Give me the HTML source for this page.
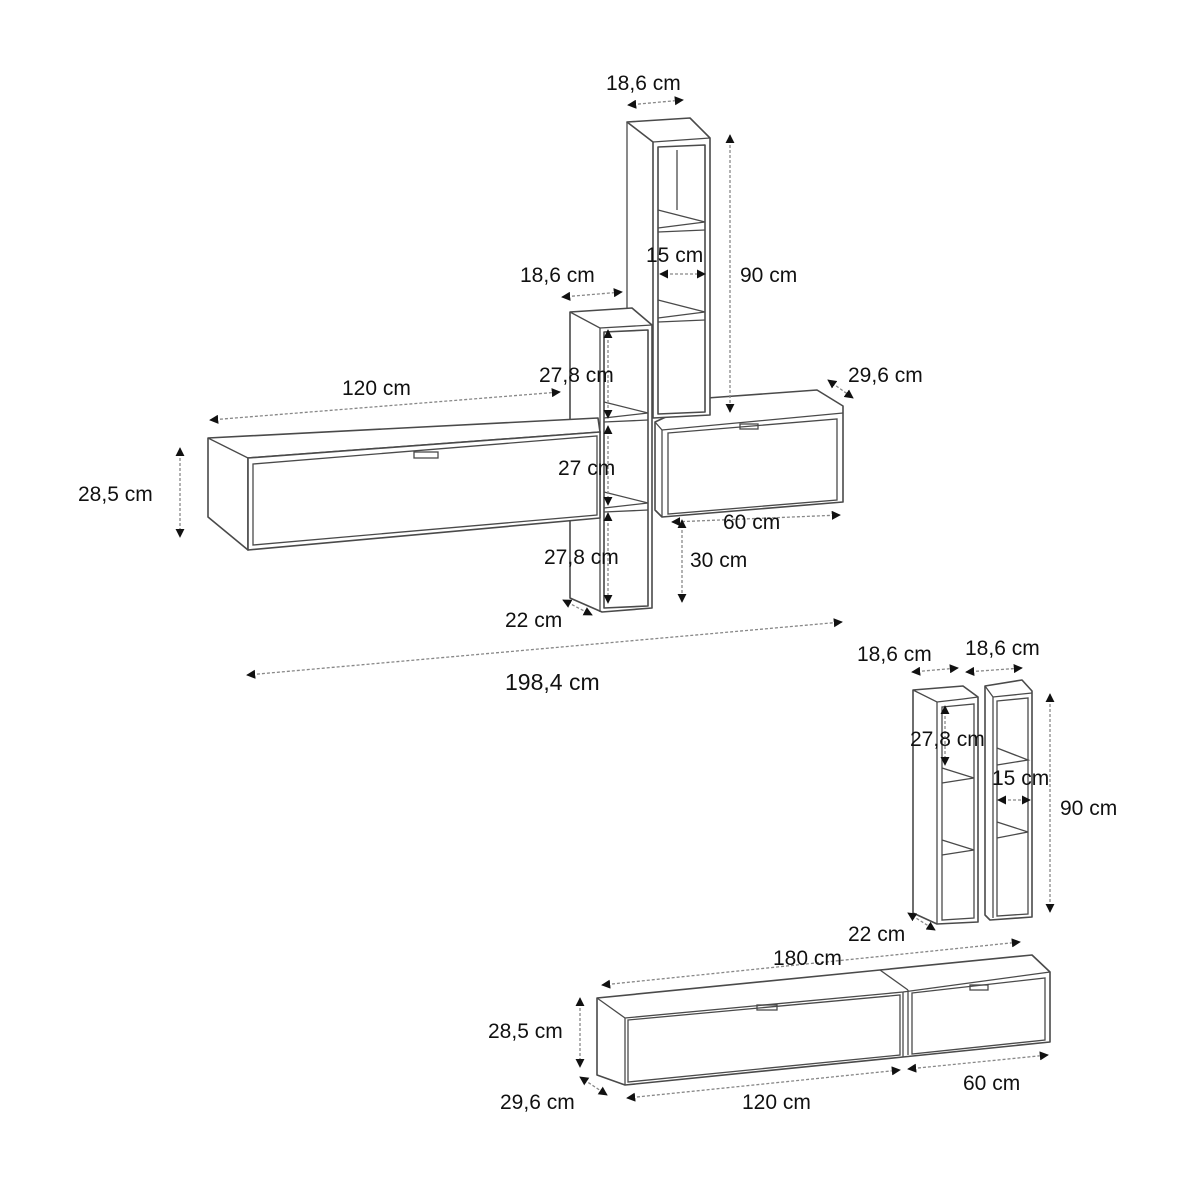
<!DOCTYPE html>
<html><head><meta charset="utf-8"><style>
html,body{margin:0;padding:0;background:#fff}
svg{display:block}
text{font-family:"Liberation Sans",sans-serif;font-size:21px;fill:#111}
.l{fill:#fff;stroke:#4a4a4a;stroke-width:1.6;stroke-linejoin:round}
.t{fill:none;stroke:#4a4a4a;stroke-width:1.3}
.d{fill:none;stroke:#888;stroke-width:1.3;stroke-dasharray:3 2}
</style></head><body>
<svg width="1200" height="1200" viewBox="0 0 1200 1200">
<defs><marker id="a" viewBox="0 0 10 10" refX="9" refY="5" markerWidth="7" markerHeight="7" orient="auto-start-reverse"><path d="M0,0L10,5L0,10z" fill="#111"/></marker></defs>

<!-- right cabinet (behind tall shelf) -->
<polygon class="l" points="655,422 707,398 817,390 843,406 843,502 662,517 655,510"/>
<polyline class="t" points="655,422 662,430 843,413"/>
<polyline class="t" points="662,430 662,517"/>
<polygon class="t" points="668,433 837,419 837,500 668,514"/>
<rect class="t" x="740" y="424" width="18" height="5"/>

<!-- tall shelf top set -->
<polygon class="l" points="627,122 690,118 710,138 710,415 653,418 653,142 627,122"/>
<polyline class="t" points="627,122 627,420"/>
<polyline class="t" points="653,142 710,138"/>
<polygon class="l" points="658,147 705,145 705,412 658,414"/>
<polyline class="t" points="658,210 705,222 658,228"/><polyline class="t" points="658,232 705,230"/>
<polyline class="t" points="658,300 705,312 658,318"/><polyline class="t" points="658,322 705,320"/>
<polyline class="t" points="677,150 677,210"/>

<!-- small middle shelf -->
<polygon class="l" points="570,312 632,308 652,325 652,608 602,612 570,598"/>
<polyline class="t" points="600,328 652,325"/><polyline class="t" points="570,312 600,328 600,612"/>
<polygon class="l" points="604,332 648,330 648,606 604,608"/>
<polyline class="t" points="604,402 648,413 604,418"/><polyline class="t" points="604,422 648,420"/>
<polyline class="t" points="604,492 648,503 604,508"/><polyline class="t" points="604,512 648,510"/>

<!-- left cabinet -->
<polygon class="l" points="208,438 598,418 600,432 248,458 248,550 208,517"/>
<polygon class="l" points="248,458 600,432 600,518 248,550"/>
<polygon class="t" points="253,464 597,436 597,515 253,545"/>
<rect class="t" x="414" y="452" width="24" height="6"/>
<polyline class="t" points="208,438 248,458"/>

<!-- bottom shelves -->
<polygon class="l" points="913,690 963,686 978,697 978,922 937,924 913,913"/>
<polyline class="t" points="913,690 937,702 963,699 978,697"/><polyline class="t" points="937,702 937,924"/>
<polygon class="t" points="942,707 974,704 974,918 942,920"/>
<polyline class="t" points="942,768 974,778 942,783"/><polyline class="t" points="942,840 974,850 942,855"/>
<polygon class="l" points="985,686 1022,680 1032,691 1032,917 990,920 985,915"/>
<polyline class="t" points="985,686 993,697 1032,693"/><polyline class="t" points="993,697 993,918"/>
<polygon class="t" points="997,701 1028,698 1028,914 997,916"/>
<polyline class="t" points="997,748 1028,760 997,765"/><polyline class="t" points="997,822 1028,832 997,838"/>

<!-- bottom long cabinet -->
<polygon class="l" points="597,998 880,970 1032,955 1050,972 1050,1042 903,1057 625,1085 597,1075"/>
<polyline class="t" points="597,998 625,1018 903,992 1050,972"/>
<polyline class="t" points="880,970 908,990"/>
<polygon class="t" points="628,1020 900,995 900,1055 628,1082"/>
<polyline class="t" points="625,1018 625,1085"/>
<polyline class="t" points="903,992 903,1057"/><polyline class="t" points="908,990 908,1055"/>
<polygon class="t" points="912,993 1045,978 1045,1040 912,1054"/>
<rect class="t" x="757" y="1005" width="20" height="5"/><rect class="t" x="970" y="985" width="18" height="5"/>

<!-- dimension lines -->
<g class="d" marker-start="url(#a)" marker-end="url(#a)">
<line x1="628" y1="105" x2="683" y2="100"/>
<line x1="730" y1="135" x2="730" y2="412"/>
<line x1="562" y1="297" x2="622" y2="292"/>
<line x1="660" y1="274" x2="705" y2="274"/>
<line x1="210" y1="420" x2="560" y2="392"/>
<line x1="828" y1="380" x2="853" y2="398"/>
<line x1="180" y1="448" x2="180" y2="537"/>
<line x1="608" y1="330" x2="608" y2="418"/>
<line x1="608" y1="426" x2="608" y2="505"/>
<line x1="608" y1="513" x2="608" y2="603"/>
<line x1="672" y1="522" x2="840" y2="515"/>
<line x1="682" y1="520" x2="682" y2="602"/>
<line x1="563" y1="600" x2="592" y2="615"/>
<line x1="247" y1="675" x2="842" y2="622"/>
<line x1="912" y1="672" x2="958" y2="668"/>
<line x1="966" y1="672" x2="1022" y2="668"/>
<line x1="945" y1="706" x2="945" y2="765"/>
<line x1="998" y1="800" x2="1030" y2="800"/>
<line x1="1050" y1="694" x2="1050" y2="912"/>
<line x1="908" y1="913" x2="935" y2="930"/>
<line x1="602" y1="985" x2="1020" y2="942"/>
<line x1="580" y1="998" x2="580" y2="1067"/>
<line x1="580" y1="1077" x2="607" y2="1095"/>
<line x1="627" y1="1098" x2="900" y2="1070"/>
<line x1="908" y1="1069" x2="1048" y2="1055"/>
</g>

<text x="606" y="90">18,6 cm</text>
<text x="520" y="282">18,6 cm</text>
<text x="646" y="262">15 cm</text>
<text x="740" y="282">90 cm</text>
<text x="342" y="395">120 cm</text>
<text x="539" y="382">27,8 cm</text>
<text x="848" y="382">29,6 cm</text>
<text x="78" y="501">28,5 cm</text>
<text x="558" y="475">27 cm</text>
<text x="723" y="529">60 cm</text>
<text x="544" y="564">27,8 cm</text>
<text x="690" y="567">30 cm</text>
<text x="505" y="627">22 cm</text>
<text x="505" y="690" style="font-size:23px">198,4 cm</text>
<text x="857" y="661">18,6 cm</text>
<text x="965" y="655">18,6 cm</text>
<text x="910" y="746">27,8 cm</text>
<text x="992" y="785">15 cm</text>
<text x="1060" y="815">90 cm</text>
<text x="848" y="941">22 cm</text>
<text x="773" y="965">180 cm</text>
<text x="488" y="1038">28,5 cm</text>
<text x="500" y="1109">29,6 cm</text>
<text x="742" y="1109">120 cm</text>
<text x="963" y="1090">60 cm</text>
</svg>
</body></html>
